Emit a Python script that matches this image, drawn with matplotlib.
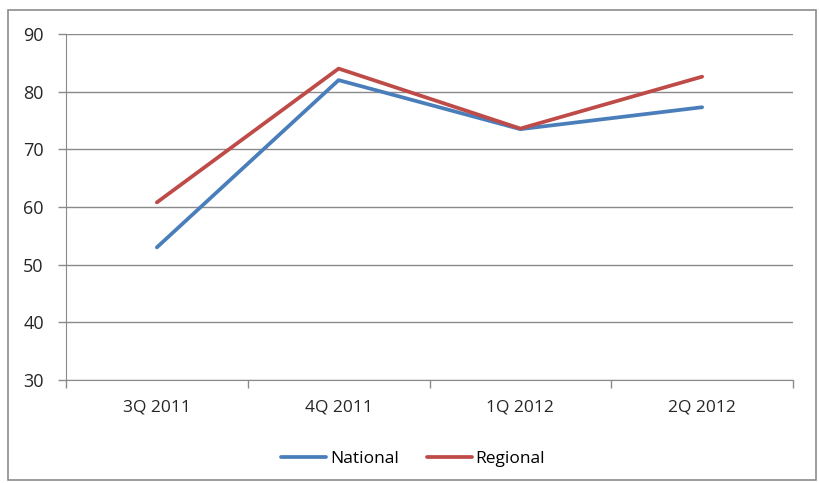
import matplotlib
matplotlib.use('Agg')
from matplotlib import pyplot as plt
from matplotlib.patches import Rectangle
import numpy as np

# Chart data
quarters = ['3Q 2011', '4Q 2011', '1Q 2012', '2Q 2012']
national = [53.0, 82.0, 73.5, 77.3]
regional = [60.8, 84.0, 73.6, 82.6]

plt.rcParams['font.family'] = ['Open Sans', 'DejaVu Sans']

fig = plt.figure(figsize=(8.19, 4.83), dpi=100)
ax = fig.add_axes([66/819, 1 - 380/483, (793 - 66)/819, (380 - 34)/483])

# Outer chart border like Excel
fig.patches.append(Rectangle((8/819, 3/483), (816 - 8)/819, (473 - 3)/483,
                             transform=fig.transFigure, fill=False,
                             edgecolor='#8c8c8c', linewidth=1.2))

x = np.arange(len(quarters))
ax.plot(x, national, color='#4A7EBB', linewidth=2.7, label='National',
        solid_capstyle='round')
ax.plot(x, regional, color='#BE4B48', linewidth=2.7, label='Regional',
        solid_capstyle='round')

ax.set_xlim(-0.5, len(quarters) - 0.5)
ax.set_ylim(30, 90)
ax.set_yticks(np.arange(30, 91, 10))
ax.yaxis.grid(True, color='#8a8a8a', linewidth=1.0)
ax.set_axisbelow(True)

# Category labels centred, tick marks on category boundaries
ax.set_xticks(x)
ax.set_xticklabels(quarters)
ax.tick_params(axis='x', which='major', length=0, pad=14, labelsize=12.5, labelcolor='#262626')
ax.set_xticks(np.arange(-0.5, len(quarters) + 0.5, 1.0), minor=True)
ax.tick_params(axis='x', which='minor', length=6, direction='out', color='#8a8a8a', width=1.0)
ax.tick_params(axis='y', length=6, direction='out', color='#8a8a8a', width=1.0,
               labelsize=13, labelcolor='#262626', pad=10)

for side in ['top', 'right']:
    ax.spines[side].set_visible(False)
ax.spines['left'].set_color('#8a8a8a')
ax.spines['bottom'].set_color('#8a8a8a')

leg = fig.legend(loc='center', bbox_to_anchor=(413/819, 1 - 459/483), ncol=2,
                 frameon=False, fontsize=12.5, handlelength=2.6, handletextpad=0.2,
                 columnspacing=1.6)

fig.savefig('out.png', dpi=100)
